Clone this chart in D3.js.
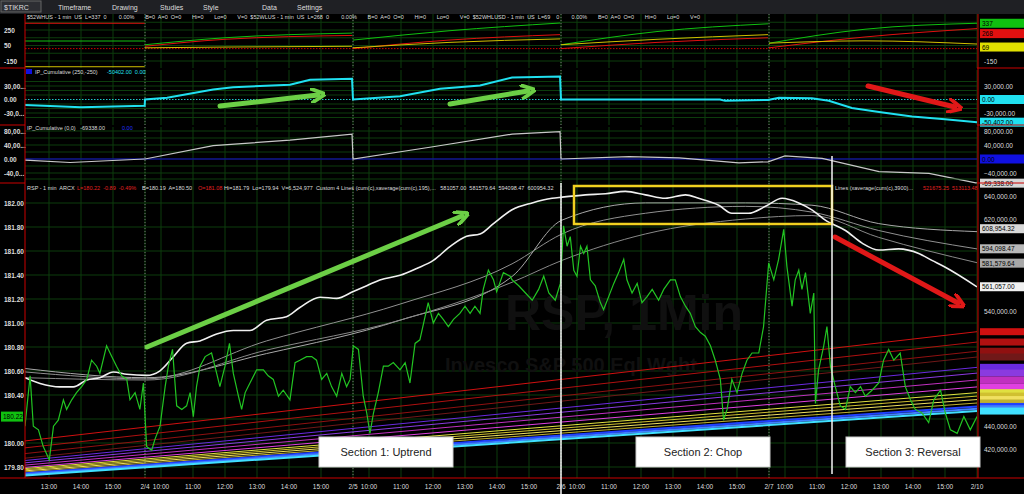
<!DOCTYPE html>
<html><head><meta charset="utf-8">
<script src="https://cdn.jsdelivr.net/npm/d3@7"></script>
<style>body{margin:0;background:#000}svg{display:block;font-family:"Liberation Sans",Arial,sans-serif}text{white-space:pre}</style>
</head><body><svg id="c" width="1024" height="494"></svg>
<script>
// time axis: t = session hours (6.5 per day, 2/3 = day 0)
const tickTimes = [3.5,4.5,5.5,6.5,7,8,9,10,11,12,13,13.5,14.5,15.5,16.5,17.5,18.5,19.5,20,21,22,23,24,25,26,26.5,27.5,28.5,29.5,30.5,31.5,32.5];
const tickLabels = ["13:00","14:00","15:00","2/4","10:00","11:00","12:00","13:00","14:00","15:00","2/5","10:00","11:00","12:00","13:00","14:00","15:00","2/6","10:00","11:00","12:00","13:00","14:00","15:00","2/7","10:00","11:00","12:00","13:00","14:00","15:00","2/10"];
const sessionStarts = [6.5,13,19.5,26];

// RSP 1 min price (t, price)
const rspT = [2.75,2.91,3.01,3.17,3.32,3.51,3.64,3.79,3.95,4.05,4.21,4.36,4.52,4.68,4.83,4.99,5.09,5.30,5.46,5.61,5.77,5.93,6.03,6.19,6.34,6.45,6.55,6.71,6.81,6.97,7.13,7.23,7.36,7.49,7.65,7.80,7.91,8.01,8.11,8.22,8.38,8.58,8.74,8.84,9.00,9.14,9.26,9.42,9.52,9.63,9.78,9.99,10.20,10.35,10.51,10.67,10.82,11.03,11.19,11.34,11.55,11.71,11.86,12.02,12.18,12.33,12.49,12.65,12.80,12.91,13.01,13.17,13.32,13.43,13.53,13.64,13.79,13.95,14.10,14.26,14.47,14.63,14.78,14.94,15.09,15.35,15.51,15.67,15.82,15.98,16.14,16.34,16.50,16.66,16.81,16.97,17.07,17.23,17.39,17.49,17.70,17.91,17.97,18.18,18.39,18.60,18.80,18.96,19.12,19.32,19.48,19.58,19.69,19.79,19.90,20.00,20.11,20.21,20.31,20.42,20.57,20.73,20.83,20.99,21.15,21.30,21.46,21.56,21.72,21.88,22.03,22.19,22.35,22.55,22.71,22.92,23.07,23.23,23.39,23.54,23.70,23.86,24.01,24.17,24.32,24.48,24.58,24.69,24.84,25.00,25.16,25.31,25.47,25.68,25.83,25.99,26.15,26.30,26.46,26.56,26.72,26.82,26.93,27.03,27.14,27.29,27.40,27.45,27.55,27.71,27.81,27.92,28.07,28.23,28.39,28.54,28.70,28.86,29.01,29.22,29.43,29.58,29.74,29.90,30.10,30.26,30.42,30.57,30.78,30.99,31.15,31.36,31.51,31.67,31.88,32.09,32.29,32.50];
const rspP = [180.14,180.56,180.14,180.11,179.97,179.86,180.14,180.19,180.36,180.28,180.36,180.42,180.47,180.53,180.69,180.64,180.58,180.81,180.72,180.64,180.56,180.53,180.36,180.42,180.28,180.50,179.97,179.94,180.03,180.14,180.47,180.64,180.78,180.31,180.28,180.31,180.42,180.22,180.47,180.64,180.72,180.75,180.58,180.47,180.64,180.83,180.58,180.39,180.28,180.42,180.50,180.61,180.61,180.56,180.53,180.39,180.44,180.36,180.67,180.69,180.72,180.72,180.69,180.53,180.58,180.47,180.39,180.58,180.47,180.53,180.81,180.78,180.39,180.25,180.08,180.25,180.42,180.64,180.64,180.67,180.61,180.67,180.50,180.83,180.86,181.17,181.00,181.08,181.03,180.97,181.03,181.08,181.14,181.08,181.14,181.08,181.28,181.44,181.36,181.26,181.42,181.39,181.36,181.31,181.25,181.19,181.28,181.39,181.25,181.19,181.33,181.81,181.64,181.72,181.44,181.39,181.64,181.58,181.64,181.36,181.31,181.17,181.11,181.22,181.33,181.42,181.53,181.36,181.25,181.33,181.17,181.22,181.28,181.19,181.28,181.36,181.36,181.22,181.14,181.08,180.97,180.92,180.89,180.81,180.69,180.53,180.19,180.28,180.53,180.42,180.58,180.69,180.75,180.75,180.97,181.50,181.36,181.53,181.78,181.47,181.14,181.36,181.44,181.28,181.42,181.08,181.25,180.33,180.61,180.81,180.97,180.64,180.47,180.31,180.28,180.47,180.42,180.47,180.39,180.44,180.50,180.69,180.78,180.69,180.75,180.47,180.36,180.28,180.25,180.17,180.36,180.44,180.25,180.11,180.08,180.22,180.11,180.22];

// Custom 4 Lines (thousands, right axis)
const cumT = [2.75,3.22,3.84,4.26,4.68,5.09,5.51,5.93,6.55,6.97,7.38,7.80,8.22,8.74,9.26,9.78,10.30,10.92,11.34,11.97,12.49,13.01,13.43,13.84,14.47,14.99,15.51,16.03,16.55,16.97,17.39,17.97,18.60,19.22,19.53,20.26,20.89,21.51,22.14,22.76,23.39,23.80,24.43,24.84,25.36,25.89,26.41,26.93,27.34,27.76,28.39,28.91,29.43,30.05,30.68,31.09,31.51,32.50];
const cumMain = [482,477,474,474,480,482,487,485,484,488,500,512,514,520,523,523,532,535,543,552,551,557,562,567,571,577,584,596,605,607,616,628,634,638,639,641,642,644,641,638,641,638,632,625,625,631,638,634,628,619,610,599,593,594,590,584,578,561];
const avgT = [2.75,6.55,10.30,14.47,17.97,19.53,22.14,25.26,27.34,29.43,32.50];
const avg1 = [490,482,503,532,570,619,634,634,632,616,609];
const avg2 = [487,481,514,546,581,607,625,631,626,610,594];
const avg3 = [482,480,506,532,565,584,607,620,623,604,582];

// lower fan of averages (thousands, start / end)
const fanStart = [427,421,416,412,410,408,406,404,403,402,401,400,399,398,397];
const fanEnd   = [522,513,505,500,491,486,480,474,469,466,463,460,457,455,453];
const fanColor = ["#d01010","#b01010","#901010","#701818","#6a2ae0","#8a3ae0","#c030c0","#e040e0","#e0e040","#d0c030","#f0e060","#c0b030","#2040ff","#4080ff","#40e0ff"];

// panel 1 breadth lines per session
const brT = [[2.75,6.49],[6.5,9,12.97],[13,16,19.47],[19.5,22.5,25.97],[26,29,32.5]];
const brGreen = [[108,108],[60,150,210],[120,240,340],[60,230,330],[80,260,337]];
const brRed = [[337,337],[40,130,180],[10,120,190],[10,90,150],[20,160,268]];
const brYellow = [[-224,-224],[20,30,40],[20,90,135],[60,130,190],[80,110,69]];

// panel 2 cyan cumulative (thousands)
const cyT = [2.75,4.5,6.49,6.5,7.19,8.63,9.25,11.03,11.66,12.97,13,14.47,15.72,16.97,17.97,19.47,19.5,24.47,24.63,25.97,26.31,27.34,27.87,28.59,29.44,30.47,31.5,32.5];
const cyV = [-12,-17,-14,0,4,22,27,33,44,46,0,7,24,31,49,51,0,0,-3,-1,4,3,-3,-19,-28,-38,-44,-50.4];

// panel 3 white cumulative (thousands)
const whT = [2.75,4.16,6.49,6.5,8.63,11.03,12.97,13,15.5,17.97,19.47,19.5,21.63,23.19,25.06,25.97,26.5,27.66,29.44,31.0,32.5];
const whV = [-3,-10,0,0,38,54,71,0,35,71,78,0,7,3,-11,-8,9,2,-36,-41,-69];

const svg = d3.select("#c");
const L = 25, R = 977;
const x = d3.scaleLinear().domain([2.75, 32.5]).range([L, R]);
const grid = "#0c3d0c";

svg.append("rect").attr("width",1024).attr("height",494).attr("fill","#000");

function panel(y0, y1){
  const g = svg.append("g");
  g.selectAll("line.v").data(tickTimes).join("line")
    .attr("x1",d=>x(d)).attr("x2",d=>x(d)).attr("y1",y0).attr("y2",y1)
    .attr("stroke",grid).attr("stroke-width",1);
  g.selectAll("line.s").data(sessionStarts).join("line")
    .attr("x1",d=>x(d)).attr("x2",d=>x(d)).attr("y1",y0).attr("y2",y1)
    .attr("stroke","#777").attr("stroke-dasharray","1,2");
  return g;
}
function hgrid(g, y, vals){
  g.selectAll(null).data(vals).join("line")
    .attr("x1",L).attr("x2",R).attr("y1",d=>y(d)).attr("y2",d=>y(d))
    .attr("stroke",grid);
}
function leftLabels(y, vals, fmt){
  svg.append("g").selectAll("text").data(vals).join("text")
    .attr("x",4).attr("y",d=>y(d)+2.5).attr("fill","#ddd").attr("font-size",6.5)
    .attr("font-weight","bold").text(fmt);
}
function rightLabels(y, vals, fmt){
  svg.append("g").selectAll("text").data(vals).join("text")
    .attr("x",984).attr("y",d=>y(d)+2.5).attr("fill","#ddd").attr("font-size",6.5).text(fmt);
}
function tag(yy, txt, bg, fg){
  svg.append("rect").attr("x",980).attr("y",yy-4.5).attr("width",44).attr("height",9).attr("fill",bg);
  svg.append("text").attr("x",982).attr("y",yy+2.5).attr("fill",fg).attr("font-size",6.5).text(txt);
}
function label(xx, yy, txt, col){
  svg.append("text").attr("x",xx).attr("y",yy).attr("fill",col||"#ddd").attr("font-size",5.5).text(txt);
}
const comma = d3.format(",.2f");

// ---- toolbar
svg.append("rect").attr("width",1024).attr("height",14).attr("fill","#1f2024");
svg.append("rect").attr("x",1).attr("y",1).attr("width",40).attr("height",11).attr("fill","#2d2e33").attr("stroke","#666");
svg.append("text").attr("x",4).attr("y",10).attr("fill","#ddd").attr("font-size",7).text("$TIKRC");
[["Timeframe",58],["Drawing",112],["Studies",160],["Style",203],["Data",262],["Settings",297]].forEach(([t,xx])=>
  svg.append("text").attr("x",xx).attr("y",10).attr("fill","#ddd").attr("font-size",7).text(t));

// ---- panel 1 (breadth)
const y1 = d3.scaleLinear().domain([-150,250]).range([61,30]);
const g1 = panel(14,68); hgrid(g1,y1,[-150,-50,50,150,250,350]);
g1.append("line").attr("x1",L).attr("x2",R).attr("y1",y1(10)).attr("y2",y1(10)).attr("stroke","#c00").attr("stroke-dasharray","1.5,1.5");
svg.append("clipPath").attr("id","p1").append("rect").attr("x",L).attr("y",15).attr("width",R-L).attr("height",53);
[[brGreen,"#10c010"],[brRed,"#e01010"],[brYellow,"#d0c000"]].forEach(([vals,col])=>{
  brT.forEach((ts,i)=>{
    const pts = ts.map((t,j)=>[x(t),y1(vals[i][j])]);
    g1.append("path").attr("d",d3.line().curve(d3.curveMonotoneX)(pts)).attr("fill","none")
      .attr("stroke",col).attr("stroke-width",1).attr("clip-path","url(#p1)");
  });
});
label(L+2,19,"$52WHUS - 1 min  US  L=337  0        0.00%       B=0  A=0  O=0       Hi=0       Lo=0       V=0  $52WLUS - 1 min  US  L=268  0        0.00%       B=0  A=0  O=0       Hi=0       Lo=0       V=0  $52WHLUSD - 1 min  US  L=69    0        0.00%       B=0  A=0  O=0       Hi=0       Lo=0       V=0");
leftLabels(y1,[250,50,-150],d=>d);
rightLabels(y1,[-150],d=>d);
tag(y1(337),"337","#10c010","#000"); tag(y1(268)+5,"268","#e01010","#000"); tag(y1(69)+3,"69","#e0e000","#000");

// ---- panel 2 (cyan)
const y2 = d3.scaleLinear().domain([-30,30]).range([113,86]);
const g2 = panel(70,125); hgrid(g2,y2,[-40,-30,-20,-10,10,20,30,40]);
g2.append("line").attr("x1",L).attr("x2",R).attr("y1",y2(0)).attr("y2",y2(0)).attr("stroke","#20c8c8").attr("stroke-dasharray","1.5,1.5");
g2.append("path").datum(cyT.map((t,i)=>[t,cyV[i]]))
  .attr("d",d3.line().x(d=>x(d[0])).y(d=>y2(d[1]))).attr("fill","none").attr("stroke","#20e0f0").attr("stroke-width",2);
svg.append("rect").attr("x",L+1).attr("y",69).attr("width",6).attr("height",5).attr("fill","#1010e0");
label(L+10,74,"IP_Cumulative (250,-250)");
label(L+82,74,"-50402.00  0.00","#20e0f0");
leftLabels(y2,[30,0,-30],d=>d===0?"0.00":(d>0?"30,00...":"-30,0..."));
rightLabels(y2,[30],d=>"30,000.00");
rightLabels(y2,[-30],d=>"-30,000.00");
tag(y2(0),"0.00","#20e0f0","#000"); tag(y2(-50.4),"-50,402.00","#20e0f0","#000");

// ---- panel 3 (white)
const y3 = d3.scaleLinear().domain([-40,80]).range([173,131]);
const g3 = panel(127,183); hgrid(g3,y3,[-40,-20,20,40,60,80]);
g3.append("line").attr("x1",L).attr("x2",R).attr("y1",y3(0)).attr("y2",y3(0)).attr("stroke","#101890").attr("stroke-width",1.5);
g3.append("path").datum(whT.map((t,i)=>[t,whV[i]]))
  .attr("d",d3.line().x(d=>x(d[0])).y(d=>y3(d[1]))).attr("fill","none").attr("stroke","#c8c8c8").attr("stroke-width",1.2);
label(L+2,130,"IP_Cumulative (0,0)   -69338.00");
label(L+97,130,"0.00","#2030ff");
leftLabels(y3,[80,40,0,-40],d=>d===0?"0.00":(d>0?d+",00...":d+",0..."));
rightLabels(y3,[80,40,-40],d=>comma(d*1000));
tag(y3(0),"0.00","#1010e0","#000"); tag(y3(-69),"-69,338.00","#d8d8d8","#000");

// ---- main panel
const mTop = 183, mBot = 478;
const yP = d3.scaleLinear().domain([180,182]).range([443,203]);
const yV = d3.scaleLinear().domain([420,640]).range([449,196]);
const gm = panel(mTop,mBot);
hgrid(gm,yP,d3.range(179.8,182.21,0.2));
svg.append("clipPath").attr("id","pm").append("rect").attr("x",L).attr("y",mTop).attr("width",R-L).attr("height",mBot-mTop);
const wm = svg.append("g").attr("clip-path","url(#pm)");
wm.append("text").attr("x",505).attr("y",330).attr("fill","#101010").attr("font-size",50).attr("font-weight","bold").text("RSP, 1Min");
wm.append("text").attr("x",445).attr("y",372).attr("fill","#101010").attr("font-size",20).attr("font-weight","bold").text("Invesco S&P 500 Eql Wght");

const mg = svg.append("g").attr("clip-path","url(#pm)");
fanStart.forEach((s,i)=>{
  mg.append("line").attr("x1",x(2.75)).attr("x2",x(32.5)).attr("y1",yV(s)).attr("y2",yV(fanEnd[i]))
    .attr("stroke",fanColor[i]).attr("stroke-width",i>=12?2:1);
});
const lv = d3.line().curve(d3.curveMonotoneX).x(d=>x(d[0])).y(d=>yV(d[1]));
[[avg1,"#a8a8a8"],[avg2,"#909090"],[avg3,"#888"]].forEach(([a,c])=>
  mg.append("path").datum(avgT.map((t,i)=>[t,a[i]])).attr("d",lv).attr("fill","none").attr("stroke",c).attr("stroke-width",1));
mg.append("path").datum(cumT.map((t,i)=>[t,cumMain[i]])).attr("d",lv).attr("fill","none").attr("stroke","#f0f0f0").attr("stroke-width",1.6);
mg.append("path").datum(rspT.map((t,i)=>[t,rspP[i]]))
  .attr("d",d3.line().x(d=>x(d[0])).y(d=>yP(d[1]))).attr("fill","none").attr("stroke","#22c422").attr("stroke-width",1.2);

label(L+2,190,"RSP - 1 min  ARCX");
label(L+52,190,"L=180.22  -0.89  -0.49%","#e02020");
label(L+117,190,"B=180.19  A=180.50");
label(L+173,190,"O=181.08","#e02020");
label(L+199,190,"Hi=181.79  Lo=179.94  V=6,524,977  Custom 4 Lines (cum(c),xaverage(cum(c),195),...   581057.00  581579.64  594098.47  600954.32");
label(835,190,"Lines (xaverage(cum(c),3900)...");
label(923,190,"521675.25  513113.48","#e02020");

leftLabels(yP,d3.range(179.8,182.01,0.2).filter(v=>Math.abs(v-180.2)>0.01),d=>d.toFixed(2));
svg.append("rect").attr("x",1).attr("y",yP(180.22)-5).attr("width",22).attr("height",10).attr("fill","#10c010");
svg.append("text").attr("x",3).attr("y",yP(180.22)+2.5).attr("fill","#000").attr("font-size",6.5).text("180.22");
rightLabels(yV,[640,620,540,440,420],d=>comma(d*1000));
[[608.95,"608,954.32","#d8d8d8"],[594.1,"594,098.47","#b8b8b8"],[581.6,"581,579.64","#a8a8a8"],[561.1,"561,057.00","#f0f0f0"]].forEach(([v,t,c])=>tag(yV(v)+(v>600?-3:0),t,c,"#000"));
fanEnd.forEach((v,i)=>{
  svg.append("rect").attr("x",980).attr("y",yV(v)-3.5).attr("width",44).attr("height",7).attr("fill",fanColor[i]);
});

// separators and borders
svg.append("line").attr("x1",L).attr("x2",L).attr("y1",14).attr("y2",mBot).attr("stroke","#c00");
svg.append("line").attr("x1",R+1).attr("x2",R+1).attr("y1",14).attr("y2",mBot).attr("stroke","#c00");
[68,125,183,mBot].forEach(yy=>{
  svg.append("line").attr("x1",0).attr("x2",L).attr("y1",yy).attr("y2",yy).attr("stroke","#c00");
  svg.append("line").attr("x1",R).attr("x2",1024).attr("y1",yy).attr("y2",yy).attr("stroke","#c00");
});
svg.append("line").attr("x1",L).attr("x2",R).attr("y1",mBot).attr("y2",mBot).attr("stroke","#c00");

// time axis
svg.append("g").selectAll("text").data(tickTimes).join("text")
  .attr("x",d=>x(d)).attr("y",489).attr("text-anchor","middle").attr("fill","#ddd").attr("font-size",6.5)
  .text((d,i)=>tickLabels[i]);

// annotations
const ann = svg.append("g");
svg.append("defs").html('<marker id="ag" viewBox="0 0 10 10" refX="5" refY="5" markerWidth="3" markerHeight="3" orient="auto"><path d="M0,0 L10,5 L0,10" fill="none" stroke="#6ccf46" stroke-width="2.5"/></marker><marker id="ar" viewBox="0 0 10 10" refX="5" refY="5" markerWidth="3" markerHeight="3" orient="auto"><path d="M0,0 L10,5 L0,10" fill="none" stroke="#e01818" stroke-width="2.5"/></marker>');
[[220,106,318,95,"#6ccf46","ag"],[450,104,528,91,"#6ccf46","ag"],[147,347,462,216,"#6ccf46","ag"],[868,86,955,107,"#e01818","ar"],[835,237,958,303,"#e01818","ar"]]
  .forEach(([a,b,c,d,col,m])=>ann.append("line").attr("x1",a).attr("y1",b).attr("x2",c).attr("y2",d)
    .attr("stroke",col).attr("stroke-width",5).attr("stroke-linecap","round").attr("marker-end",`url(#${m})`));
ann.append("rect").attr("x",574).attr("y",186).attr("width",258).attr("height",38).attr("fill","none").attr("stroke","#f0d020").attr("stroke-width",2.5);
ann.append("line").attr("x1",561).attr("x2",561).attr("y1",183).attr("y2",494).attr("stroke","#f4f4f4").attr("stroke-width",1.5);
ann.append("line").attr("x1",832).attr("x2",832).attr("y1",156).attr("y2",474).attr("stroke","#f4f4f4").attr("stroke-width",1.5);
[[319,"Section 1: Uptrend"],[636,"Section 2: Chop"],[846,"Section 3: Reversal"]].forEach(([xx,t])=>{
  ann.append("rect").attr("x",xx).attr("y",437).attr("width",134).attr("height",30).attr("fill","#fff").attr("stroke","#ccc");
  ann.append("text").attr("x",xx+67).attr("y",456).attr("text-anchor","middle").attr("fill","#222").attr("font-size",11).text(t);
});
</script></body></html>
